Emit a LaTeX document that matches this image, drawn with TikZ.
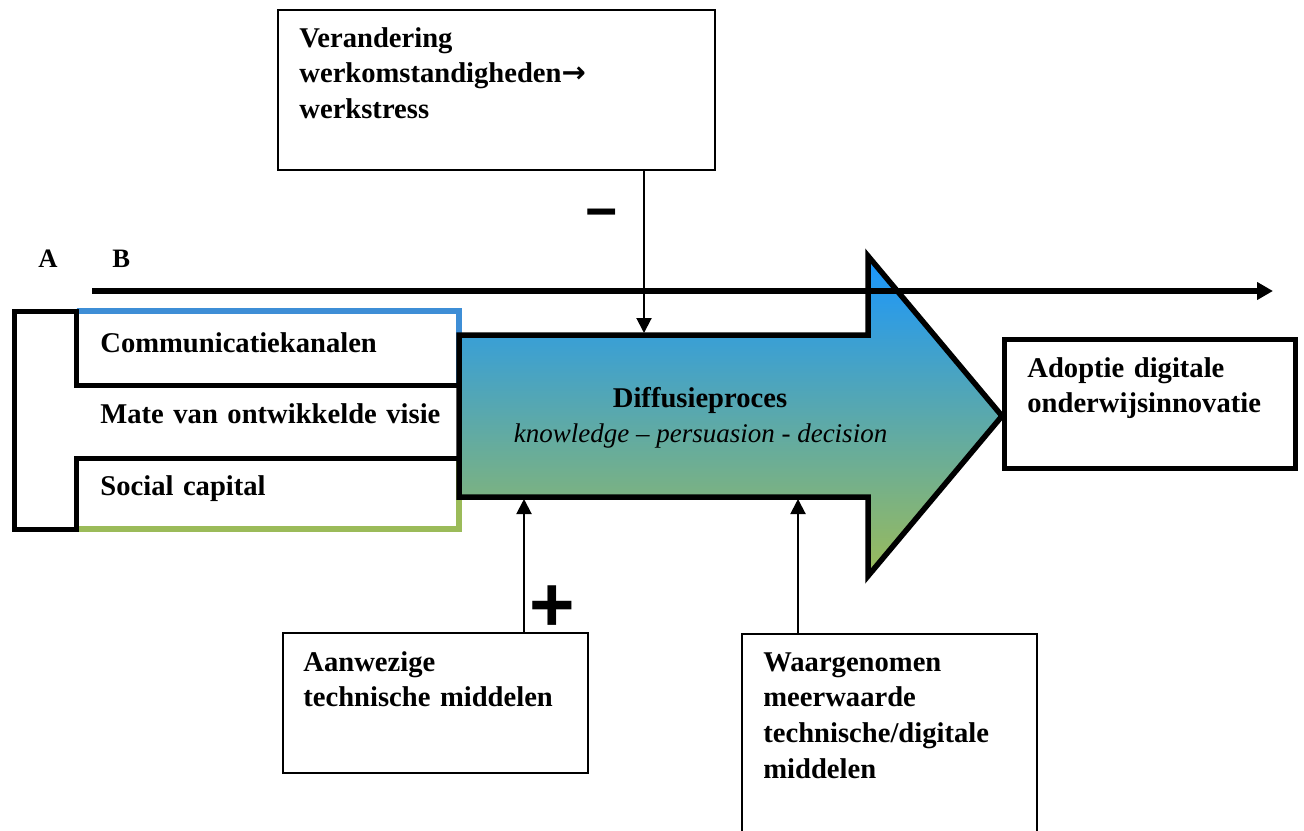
\documentclass[tikz,border=0pt]{standalone}
\usepackage{fontspec}
\setmainfont{Liberation Serif}
\newfontfamily\signfont{Liberation Sans}
\newfontfamily\arrowfont{DejaVu Sans}
\usetikzlibrary{arrows.meta}
\definecolor{boxblue}{RGB}{62,142,214}
\definecolor{boxgreen}{RGB}{155,187,89}
\definecolor{flowtop}{RGB}{25,150,255}
\definecolor{flowmid}{RGB}{108,170,188}
\definecolor{flowbot}{RGB}{155,187,89}
% bold label face with slightly narrower word spaces
\newcommand\labelface{\fontsize{14.3}{17.9}\selectfont\bfseries\spaceskip=0.19em plus 0.05em\relax}
\begin{document}
\begin{tikzpicture}[x=0.5pt,y=-0.5pt,
  label/.style={font=\labelface, inner sep=0pt, text width=230pt, anchor=base west},
  letter/.style={font=\fontsize{13.3}{15}\selectfont\bfseries, anchor=base west, inner sep=0pt},
  thinbox/.style={draw, line width=1.25pt, inner sep=0pt},
  thickbox/.style={draw, line width=2.5pt, inner sep=0pt},
  influence/.style={line width=1pt, -{Triangle[length=7.5pt,width=7.5pt]}},
  timeline/.style={line width=3pt, -{Triangle[length=8pt,width=8.5pt]}},
  flowshape/.style={line width=2.75pt, line join=miter, top color=flowtop,
    middle color=flowmid, bottom color=flowbot}
]
\useasboundingbox (0,0) rectangle (1304,830);

% boxes around the outer factors
\node[thinbox, minimum width=218.5pt, minimum height=80pt] (stress) at (496.5,90) {};
\node[thinbox, minimum width=152.5pt, minimum height=70pt] (means) at (435.5,703) {};
\node[thinbox, minimum width=147.5pt, minimum height=160pt] (value) at (889.5,794) {};
\node[thickbox, minimum width=145.5pt, minimum height=64.25pt] (adopt) at (1149.5,403.75) {};

% coloured edges of the two outer rows of the column
\draw[boxblue, line width=2.75pt] (76.5,311) -- (459,311) -- (459,385);
\draw[boxgreen, line width=2.75pt] (76.5,529) -- (459,529) -- (459,458);

% the diffusion arrow
\draw[flowshape] (459,335) -- (868,335) -- (868,256) -- (1002,416)
  -- (868,576) -- (868,497) -- (459,497) -- cycle;

% black bracket grouping the three factors
\draw[line width=2.5pt] (459,385) -- (76.5,385) -- (76.5,311) -- (14.5,311)
  -- (14.5,529) -- (76.5,529) -- (76.5,458) -- (459,458);

% time line from A to B
\coordinate (time-start) at (92,291);
\coordinate (time-end) at (1273,291);
\draw[timeline] (time-start) -- (time-end);

% influences on the diffusion process
\coordinate (flow-top-in) at (644,333);
\coordinate (flow-bot-in1) at (524,499);
\coordinate (flow-bot-in2) at (798,499);
\draw[influence] (stress.south -| flow-top-in) -- (flow-top-in);
\draw[influence] (means.north -| flow-bot-in1) -- (flow-bot-in1);
\draw[influence] (value.north -| flow-bot-in2) -- (flow-bot-in2);

% signs of the influences
\node[font=\signfont\bfseries\fontsize{27.7}{30}\selectfont, inner sep=0pt] (minus) at (602,220) {−};
\node[font=\signfont\bfseries\fontsize{39}{42}\selectfont, inner sep=0pt] (plus) at (552,609) {+};

% texts
\node[letter] (A) at (38,267) {A};
\node[letter] (B) at (112,267) {B};
\node[label] (stress-t) at (299,47) {Verandering\\werkomstandigheden{\arrowfont\bfseries\fontsize{14.5}{15}\selectfont→}\\werkstress};
\node[label] (comm) at (100,352) {Communicatiekanalen};
\node[label] (visie) at (100,423) {Mate van ontwikkelde visie};
\node[label] (social) at (100,495) {Social capital};
\node[label] (adopt-t) at (1027,377) {Adoptie digitale\\onderwijsinnovatie};
\node[label] (means-t) at (303,671) {Aanwezige\\technische middelen};
\node[label] (value-t) at (763,671) {Waargenomen\\meerwaarde\\technische/digitale\\middelen};
\node[font=\fontsize{14.3}{17}\selectfont\bfseries, anchor=base, inner sep=0pt] (diff) at (700,407) {Diffusieproces};
\node[font=\fontsize{13.5}{16}\selectfont\itshape, anchor=base, inner sep=0pt] (stages) at (700.5,442) {knowledge – persuasion - decision};
\end{tikzpicture}
\end{document}
